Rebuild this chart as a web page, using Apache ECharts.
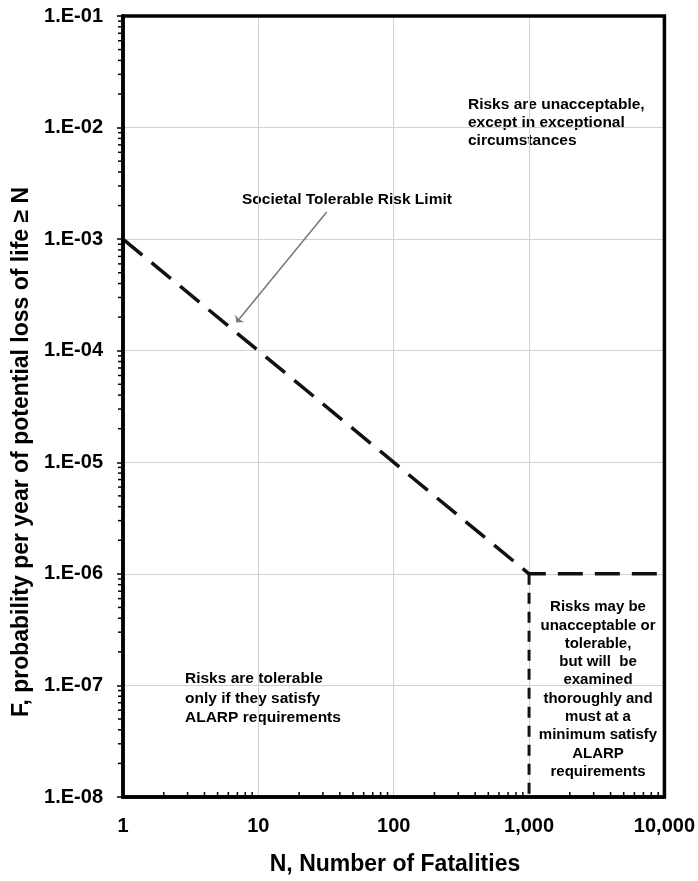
<!DOCTYPE html>
<html>
<head>
<meta charset="utf-8">
<script src="https://cdn.jsdelivr.net/npm/echarts@6/dist/echarts.min.js"></script>
<style>html,body{margin:0;padding:0;background:#fff;}#c{width:698px;height:881px;}</style>
</head>
<body>
<div id="c"></div>
<script>
// ---- data ----
const xTickValues = [1, 10, 100, 1000, 10000];
const xTickLabels = ['1', '10', '100', '1,000', '10,000'];
const yTickValues = [1e-8, 1e-7, 1e-6, 1e-5, 1e-4, 1e-3, 1e-2, 1e-1];
const yTickLabels = ['1.E-08', '1.E-07', '1.E-06', '1.E-05', '1.E-04', '1.E-03', '1.E-02', '1.E-01'];
const limitN = [1, 1000, 10000];
const limitF = [1e-3, 1e-6, 1e-6];
const verticalN = [1000, 1000];
const verticalF = [1e-6, 1e-8];
const arrowFrom = [32, 1.75e-3];
const arrowTo = [6.9, 1.8e-4];
const xName = 'N, Number of Fatalities';
const yName = 'F, probability per year of potential loss of life \u2265 N';
const noteTopRight = ['Risks are unacceptable,', 'except in exceptional', 'circumstances'];
const noteLimit = 'Societal Tolerable Risk Limit';
const noteBottomLeft = ['Risks are tolerable', 'only if they satisfy', 'ALARP requirements'];
const noteBottomRight = ['Risks may be', 'unacceptable or', 'tolerable,', 'but will  be', 'examined', 'thoroughly and', 'must at a', 'minimum satisfy', 'ALARP', 'requirements'];

// minor tick values (2..9 per decade)
const xMinor = [];
for (let e = 0; e < 4; e++) for (let m = 2; m <= 9; m++) xMinor.push(m * Math.pow(10, e));
const yMinor = [];
for (let e = -8; e < -1; e++) for (let m = 2; m <= 9; m++) yMinor.push(m * Math.pow(10, e));

const FONT = '"Liberation Sans", Arial, sans-serif';
const chart = echarts.init(document.getElementById('c'), null, {renderer: 'canvas'});

function labelFor(values, labels) {
  return function (v) {
    for (let i = 0; i < values.length; i++) {
      if (Math.abs(Math.log10(v) - Math.log10(values[i])) < 1e-6) return labels[i];
    }
    return '';
  };
}

const lineData = limitN.map((n, i) => [n, limitF[i]]);
const vertData = verticalN.map((n, i) => [n, verticalF[i]]);

chart.setOption({
  animation: false,
  backgroundColor: '#fff',
  grid: {left: 123, top: 16, right: 31, bottom: 84, show: true, borderColor: '#000', borderWidth: 3.5, backgroundColor: 'transparent', z: 10},
  xAxis: {
    type: 'log', logBase: 10, min: 1, max: 10000,
    axisLine: {show: true, lineStyle: {color: '#000', width: 3.5}},
    axisTick: {show: false},
    axisLabel: {formatter: labelFor(xTickValues, xTickLabels), color: '#000', fontFamily: FONT, fontWeight: 'bold', fontSize: 20, margin: 19},
    splitLine: {show: true, lineStyle: {color: '#d0d0d0', width: 1}},
    minorTick: {show: false}
  },
  yAxis: {
    type: 'log', logBase: 10, min: 1e-8, max: 1e-1,
    axisLine: {show: true, lineStyle: {color: '#000', width: 3.5}},
    axisTick: {show: true, length: 6, lineStyle: {color: '#000', width: 1.5}},
    axisLabel: {formatter: labelFor(yTickValues, yTickLabels), color: '#000', fontFamily: FONT, fontWeight: 'bold', fontSize: 20, margin: 20},
    splitLine: {show: true, lineStyle: {color: '#d0d0d0', width: 1}},
    minorTick: {show: false}
  },
  series: [
    {
      type: 'line', data: lineData, symbol: 'none', z: 5,
      lineStyle: {color: '#111', width: 3.5, type: [25, 12]},
      markLine: {
        silent: true, symbol: ['none', 'arrow'], symbolSize: [9, 5],
        label: {show: false},
        lineStyle: {color: '#777', width: 1.5, type: 'solid'},
        data: [[{coord: arrowFrom}, {coord: arrowTo}]]
      }
    },
    {
      type: 'line', data: vertData, symbol: 'none', z: 5,
      lineStyle: {color: '#111', width: 3, type: [11, 8]}
    },
    {
      type: 'custom', clip: false, z: 6,
      data: yMinor.map(v => [1, v]),
      renderItem: function (params, api) {
        const p = api.coord([1, api.value(1)]);
        return {type: 'line', shape: {x1: p[0] - 5, y1: p[1], x2: p[0], y2: p[1]}, style: {stroke: '#000', lineWidth: 1.5}};
      }
    },
    {
      type: 'custom', clip: false, z: 6,
      data: xMinor.map(v => [v, 1e-8]),
      renderItem: function (params, api) {
        const p = api.coord([api.value(0), 1e-8]);
        return {type: 'line', shape: {x1: p[0], y1: p[1], x2: p[0], y2: p[1] - 5}, style: {stroke: '#000', lineWidth: 1.5}};
      }
    }
  ],
  graphic: [
    {type: 'text', x: 395, y: 865, silent: true,
     style: {text: xName, fill: '#000', font: 'bold 23px ' + FONT, textAlign: 'center', textVerticalAlign: 'middle'}},
    {type: 'text', x: 22, y: 452, rotation: Math.PI / 2, silent: true,
     style: {text: yName, fill: '#000', font: 'bold 23px ' + FONT, textAlign: 'center', textVerticalAlign: 'middle'}},
    {type: 'text', x: 468, y: 96, silent: true,
     style: {text: noteTopRight.join('\n'), fill: '#000', font: 'bold 15.5px ' + FONT, lineHeight: 18, textAlign: 'left', textVerticalAlign: 'top'}},
    {type: 'text', x: 242, y: 192, silent: true,
     style: {text: noteLimit, fill: '#000', font: 'bold 15.5px ' + FONT, textAlign: 'left', textVerticalAlign: 'top'}},
    {type: 'text', x: 185, y: 669, silent: true,
     style: {text: noteBottomLeft.join('\n'), fill: '#000', font: 'bold 15.5px ' + FONT, lineHeight: 19.5, textAlign: 'left', textVerticalAlign: 'top'}},
    {type: 'text', x: 598, y: 598, silent: true,
     style: {text: noteBottomRight.join('\n'), fill: '#000', font: 'bold 15px ' + FONT, lineHeight: 18.3, textAlign: 'center', textVerticalAlign: 'top'}}
  ]
});
</script>
</body>
</html>
